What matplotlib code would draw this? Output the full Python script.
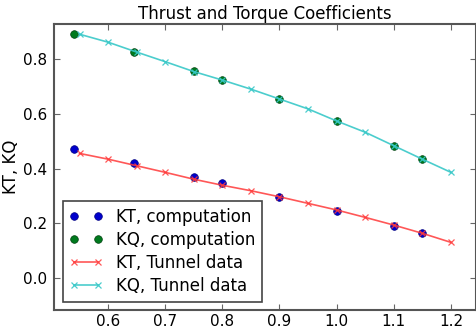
import numpy as np
import matplotlib
matplotlib.use("Agg")
import matplotlib.pyplot as plt

# Advance coefficient J for the computed points
j_comp = [0.54, 0.645, 0.75, 0.80, 0.90, 1.00, 1.10, 1.15]
kt_comp = [0.471, 0.419, 0.368, 0.348, 0.297, 0.246, 0.192, 0.164]
kq_comp = [0.891, 0.823, 0.755, 0.721, 0.653, 0.573, 0.483, 0.434]

# Tunnel measurements
j_tunnel = [0.55, 0.60, 0.65, 0.70, 0.75, 0.80, 0.85, 0.90, 0.95, 1.00,
            1.05, 1.10, 1.15, 1.20]
kt_tunnel = [0.455, 0.434, 0.410, 0.386, 0.361, 0.339, 0.319, 0.297,
             0.273, 0.249, 0.222, 0.194, 0.164, 0.131]
kq_tunnel = [0.889, 0.860, 0.824, 0.789, 0.753, 0.722, 0.689, 0.653,
             0.617, 0.573, 0.532, 0.483, 0.434, 0.386]

plt.rcParams['font.family'] = ['DejaVu Sans']

fig = plt.figure(figsize=(4.77, 3.29), dpi=100)
fig.patch.set_facecolor('white')
ax = fig.add_axes([0.114, 0.058, 0.884, 0.868])

ax.plot(j_comp, kt_comp, 'o', color='#0000cc', markersize=5.5,
        markeredgecolor='#000080', markeredgewidth=0.5, label='KT, computation')
ax.plot(j_comp, kq_comp, 'o', color='#007a1e', markersize=5.5,
        markeredgecolor='#004010', markeredgewidth=0.5, label='KQ, computation')
ax.plot(j_tunnel, kt_tunnel, '-x', color='#ff3a3a', alpha=0.85, lw=1.2,
        markersize=5, markeredgewidth=0.9, label='KT, Tunnel data')
ax.plot(j_tunnel, kq_tunnel, '-x', color='#38c8c8', alpha=0.9, lw=1.2,
        markersize=5, markeredgewidth=0.9, label='KQ, Tunnel data')

ax.set_xlim(0.506, 1.244)
ax.set_ylim(-0.115, 0.925)
ax.set_xticks([0.6, 0.7, 0.8, 0.9, 1.0, 1.1, 1.2])
ax.set_yticks([0.0, 0.2, 0.4, 0.6, 0.8])
ax.tick_params(direction='in', top=True, right=True, length=4, width=0.8,
               labelsize=11, color='#666666')
ax.tick_params(axis='x', pad=3)
ax.tick_params(axis='y', pad=5)
for s in ax.spines.values():
    s.set_color('#555555')
    s.set_linewidth(1.5)

ax.set_title('Thrust and Torque Coefficients', fontsize=12, pad=4)
ax.set_ylabel('KT, KQ', fontsize=12, labelpad=2)

leg = ax.legend(loc='lower left', numpoints=2, fontsize=12,
                fancybox=False, framealpha=1, borderaxespad=0.5,
                handlelength=2.0, labelspacing=0.3, borderpad=0.4,
                handletextpad=0.8)
leg.get_frame().set_edgecolor('#444444')
leg.get_frame().set_linewidth(1.2)

fig.savefig('out.png', dpi=100, facecolor='white')
